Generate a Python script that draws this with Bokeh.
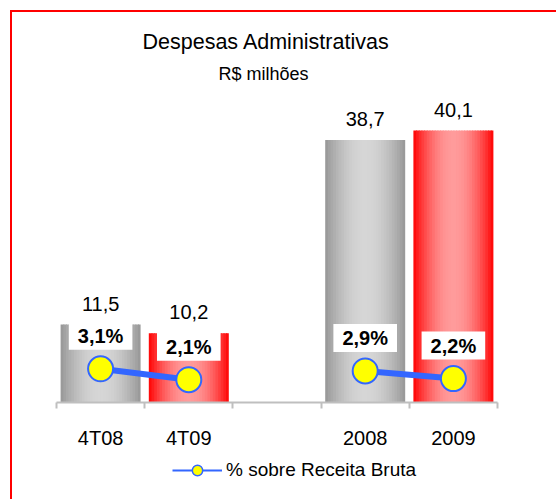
import numpy as np
from bokeh.plotting import figure
from bokeh.layouts import column
from bokeh.models import Range1d, FixedTicker, Legend, LegendItem, Title, ColumnDataSource
from bokeh.core.properties import value
from bokeh.embed import file_html
from bokeh.resources import INLINE

# ---------------- data ----------------
slots = ["4T08", "4T09", "", "2008", "2009"]          # axis slots (blank gap)
categories = ["4T08", "4T09", "2008", "2009"]
despesas = [11.5, 10.2, 38.7, 40.1]                   # R$ milhões
despesas_labels = ["11,5", "10,2", "38,7", "40,1"]
pct_receita = [3.1, 2.1, 2.9, 2.2]                    # % sobre Receita Bruta
pct_labels = ["3,1%", "2,1%", "2,9%", "2,2%"]
grupos = ["trimestre", "trimestre", "ano", "ano"]
series_name = "% sobre Receita Bruta"
title_text = "Despesas Administrativas"
subtitle_text = "R$ milhões"

# ---------------- style ----------------
FONT = "Liberation Sans"
BLUE = "#3366ff"
BAR_W = 0.907
N_STRIPS = 30
GRAY_EDGE, GRAY_MID = np.array([150, 150, 150]), np.array([214, 214, 214])
RED_EDGE, RED_MID = np.array([255, 0, 0]), np.array([255, 155, 155])
MB_LEFT, MB_RIGHT = 44, 59

x_pos = [slots.index(c) for c in categories]

p = figure(width=544, height=445, x_range=Range1d(-0.5, len(slots) - 0.5),
           y_range=Range1d(0, 46.3), output_backend="svg", toolbar_location=None,
           min_border_left=MB_LEFT, min_border_right=MB_RIGHT, min_border_top=76,
           min_border_bottom=55)
p.extra_y_ranges = {"pct": Range1d(0, 28.9)}
p.outline_line_color = None
p.grid.visible = False
p.yaxis.visible = False
p.background_fill_color = "white"
p.border_fill_color = "white"

# ---------------- gradient bars (vertical strips) ----------------
lefts, rights, tops, colors = [], [], [], []
for i, (xc, v) in enumerate(zip(x_pos, despesas)):
    edge, mid = (GRAY_EDGE, GRAY_MID) if i % 2 == 0 else (RED_EDGE, RED_MID)
    x0 = xc - BAR_W / 2
    sw = BAR_W / N_STRIPS
    for k in range(N_STRIPS):
        t = (k + 0.5) / N_STRIPS
        f = np.sin(np.pi * t) ** 0.9
        c = (edge + (mid - edge) * f).round().astype(int)
        lefts.append(x0 + k * sw)
        rights.append(min(x0 + (k + 1.4) * sw, xc + BAR_W / 2))
        tops.append(v)
        colors.append("#%02x%02x%02x" % tuple(c))
p.quad(left=lefts, right=rights, bottom=0, top=tops, fill_color=colors, line_color=None)

# value labels above bars
src_bar = ColumnDataSource(dict(x=x_pos, y=despesas, lab=despesas_labels))
p.text(x="x", y="y", text="lab", source=src_bar, y_offset=-21, text_align="center",
       text_baseline="middle", text_font=value(FONT), text_font_size="20px", text_color="#000000")

# ---------------- line series ----------------
for g in dict.fromkeys(grupos):
    idx = [i for i, gg in enumerate(grupos) if gg == g]
    p.line([x_pos[i] for i in idx], [pct_receita[i] for i in idx], y_range_name="pct",
           line_color=BLUE, line_width=6)
src_pct = ColumnDataSource(dict(x=x_pos, y=pct_receita, lab=pct_labels))
p.scatter(x="x", y="y", source=src_pct, y_range_name="pct", size=25, marker="circle",
          fill_color="#ffff00", line_color=BLUE, line_width=2)
p.text(x="x", y="y", text="lab", source=src_pct, y_range_name="pct", y_offset=-33,
       text_align="center", text_baseline="middle", text_font=value(FONT),
       text_font_size="20px", text_font_style="bold", text_color="#000000",
       background_fill_color="#ffffff", padding=(9, 3))

# ---------------- x axis ----------------
ax = p.xaxis[0]
ax.ticker = FixedTicker(ticks=x_pos, minor_ticks=[i - 0.5 for i in range(len(slots) + 1)])
ax.major_label_overrides = {xp: c for xp, c in zip(x_pos, categories)}
ax.major_label_text_font = FONT
ax.major_label_text_font_size = "20px"
ax.major_label_text_color = "#000000"
ax.major_label_standoff = 18
ax.major_tick_out = 0
ax.major_tick_in = 0
ax.major_tick_line_color = None
ax.minor_tick_out = 6
ax.minor_tick_in = 0
ax.minor_tick_line_color = "#bfbfbf"
ax.minor_tick_line_width = 2
ax.axis_line_color = "#bfbfbf"
ax.axis_line_width = 2

# ---------------- titles ----------------
p.title.text = title_text
p.title.align = "left"
p.title.offset = 86
p.title.text_font = FONT
p.title.text_font_size = "21.5px"
p.title.text_font_style = "normal"
p.title.text_color = "#000000"
p.title.standoff = 7
p.add_layout(Title(text=subtitle_text, align="left", offset=162, text_font=FONT,
                   text_font_size="18px", text_font_style="normal", text_color="#000000",
                   standoff=9), "above")

# ---------------- legend (own strip below the chart) ----------------
pl = figure(width=544, height=42, x_range=Range1d(0, 1), y_range=Range1d(0, 1),
            output_backend="svg", toolbar_location=None,
            min_border_left=MB_LEFT, min_border_right=MB_RIGHT, min_border_top=0,
            min_border_bottom=0)
pl.axis.visible = False
pl.grid.visible = False
pl.outline_line_color = None
lr = pl.line([0.5], [np.nan], line_color=BLUE, line_width=2)
ls = pl.scatter([0.5], [np.nan], size=11, marker="circle", fill_color="#ffff00",
                line_color=BLUE, line_width=1.5)
legend = Legend(items=[LegendItem(label=series_name, renderers=[lr, ls])],
                orientation="horizontal", location=(116, 16), border_line_color=None,
                background_fill_alpha=0, glyph_width=50, glyph_height=26,
                label_text_font=FONT, label_text_font_size="19px", label_text_color="#000000",
                margin=0, padding=0, label_standoff=4)
pl.add_layout(legend, "center")

layout = column(p, pl, spacing=0)
layout.styles = {"border-top": "2px solid #ff0000", "border-left": "2px solid #ff0000"}
layout.margin = (10, 0, 0, 10)

open("out.html", "w").write(file_html(layout, INLINE))
